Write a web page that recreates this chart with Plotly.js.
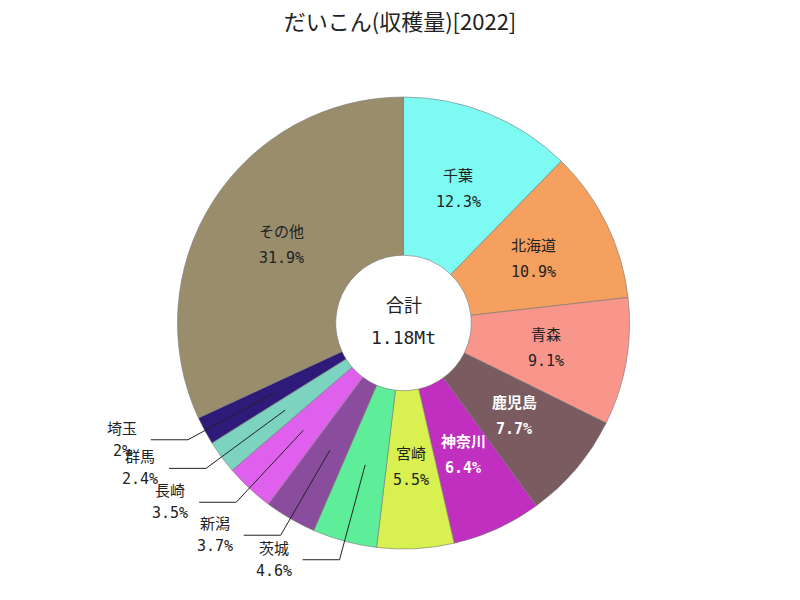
<!DOCTYPE html>
<html><head><meta charset="utf-8">
<script src="https://cdn.plot.ly/plotly-3.0.1.min.js"></script>
<style>body{margin:0;background:#fff}#chart{width:800px;height:600px}</style>
</head><body><div id="chart"></div>
<script>
const labels = ['千葉','北海道','青森','鹿児島','神奈川','宮崎','茨城','新潟','長崎','群馬','埼玉','その他'];
const shares = [12.3,10.9,9.1,7.7,6.4,5.5,4.6,3.7,3.5,2.4,2.0,31.9];
const pctText = ['12.3%','10.9%','9.1%','7.7%','6.4%','5.5%','4.6%','3.7%','3.5%','2.4%','2%','31.9%'];
const colors = ['#7DFBF3','#F5A05E','#F8968B','#7A5B5F','#C02FC0','#D8F050','#5EEE9A','#8A4C9C','#E060EE','#7CD4C0','#2E1A78','#9A8D6C'];
const textColors = ['#222','#222','#222','#fff','#fff','#222','#222','#222','#222','#222','#222','#222'];
const outsideIdx = [6,7,8,9,10];
const total = '1.18Mt';
const titleText = 'だいこん(収穫量)[2022]';

const W=800,H=600,ml=7,mr=0,mt=97,mb=51;
const pw=W-ml-mr, ph=H-mt-mb;
const cx = ml+pw/2, cy = mt+ph/2, R = Math.min(pw,ph)/2;
const px2x = p => (p-ml)/pw;
const py2y = p => 1-(p-mt)/ph;
const FONT = 'DejaVu Sans Mono, Noto Sans CJK JP, sans-serif';

const sum = shares.reduce((a,b)=>a+b,0);

const shapes=[], annotations=[];
let cum=0;
shares.forEach((v,i)=>{
  const mid=(cum+v/2)/sum*2*Math.PI; cum+=v;
  const dx=Math.sin(mid), dy=-Math.cos(mid);
  if(!outsideIdx.includes(i)){
    const tx=cx+dx*R*0.64, ty=cy+dy*R*0.64;
    const bold = textColors[i]==='#fff';
    annotations.push({xref:'paper',yref:'paper',x:px2x(tx),y:py2y(ty-13),text:bold?'<b>'+labels[i]+'</b>':labels[i],showarrow:false,
      xanchor:'center',yanchor:'middle',font:{family:FONT,size:15,color:textColors[i]}});
    annotations.push({xref:'paper',yref:'paper',x:px2x(tx),y:py2y(ty+13),text:bold?'<b>'+pctText[i]+'</b>':pctText[i],showarrow:false,
      xanchor:'center',yanchor:'middle',font:{family:FONT,size:15,color:textColors[i]}});
    return;
  }
  const x0=cx+dx*R*0.65, y0=cy+dy*R*0.65;
  const x1=cx+dx*R*1.085, y1=cy+dy*R*1.085;
  const x2=x1-37;
  shapes.push({type:'path',xref:'paper',yref:'paper',
    path:`M${px2x(x0)},${py2y(y0)} L${px2x(x1)},${py2y(y1)} L${px2x(x2)},${py2y(y1)}`,
    line:{color:'#222',width:1}});
  annotations.push({xref:'paper',yref:'paper',x:px2x(x2-29),y:py2y(y1-11),text:labels[i],showarrow:false,
    xanchor:'center',yanchor:'middle',font:{family:FONT,size:15,color:'#222'}});
  annotations.push({xref:'paper',yref:'paper',x:px2x(x2-29),y:py2y(y1+11),text:pctText[i],showarrow:false,
    xanchor:'center',yanchor:'middle',font:{family:FONT,size:15,color:'#222'}});
});
annotations.push({xref:'paper',yref:'paper',x:px2x(cx),y:py2y(cy-18),text:'合計',showarrow:false,
  font:{family:FONT,size:18,color:'#222'}});
annotations.push({xref:'paper',yref:'paper',x:px2x(cx),y:py2y(cy+14),text:total,showarrow:false,
  font:{family:FONT,size:18,color:'#222'}});

const trace={type:'pie',labels:labels,values:shares,sort:false,direction:'clockwise',rotation:0,hole:0.3,
  marker:{colors:colors,line:{color:'#777',width:0.6}},
  textinfo:'none',hoverinfo:'label+percent',showlegend:false};

Plotly.newPlot('chart',[trace],{width:W,height:H,margin:{l:ml,r:mr,t:mt,b:mb},
  paper_bgcolor:'#fff',
  title:{text:titleText,x:0.5,xref:'container',y:0.963,yref:'container',yanchor:'middle',font:{family:'Noto Sans CJK JP, sans-serif',size:22,color:'#222'}},
  shapes:shapes,annotations:annotations},{displayModeBar:false});
</script></body></html>
